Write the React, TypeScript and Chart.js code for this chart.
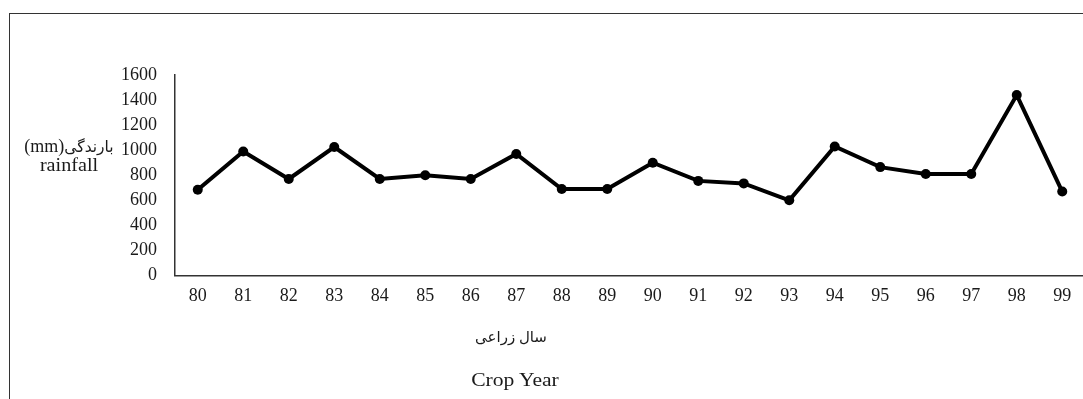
import React, { useEffect, useRef } from 'react';
import { Chart, registerables } from 'chart.js';

Chart.register(...registerables);

const years = ['80', '81', '82', '83', '84', '85', '86', '87', '88', '89', '90', '91', '92', '93', '94', '95', '96', '97', '98', '99'];
const rainfall = [685, 990, 770, 1025, 770, 800, 770, 970, 690, 690, 900, 755, 735, 600, 1030, 865, 810, 810, 1440, 670];
const yMin = 0;
const yMax = 1600;
const yStep = 200;
const yTitleFa = 'بارندگی';
const yTitleUnit = '(mm)';
const yTitleEn = 'rainfall';
const xTitleLines = ['سال زراعی', 'Crop Year'];

const SERIF = '"Liberation Serif", "Times New Roman", "DejaVu Sans", serif';

export default function App() {
  const ref = useRef<HTMLCanvasElement>(null);

  useEffect(() => {
    document.body.style.margin = '0';
    document.body.style.overflow = 'hidden';
    const chart = new Chart(ref.current!, {
      type: 'line',
      data: {
        labels: years,
        datasets: [
          {
            data: rainfall,
            borderColor: '#000',
            backgroundColor: '#000',
            borderWidth: 4,
            pointRadius: 5,
            pointBackgroundColor: '#000',
            pointBorderColor: '#000',
            pointBorderWidth: 0,
            tension: 0,
          },
        ],
      },
      options: {
        animation: false,
        responsive: false,
        layout: { padding: { left: 0, top: 75, right: 5, bottom: 0 } },
        plugins: { legend: { display: false }, tooltip: { enabled: false } },
        scales: {
          x: {
            offset: true,
            grid: { display: false, drawTicks: false },
            border: { display: true, color: '#333', width: 1.5 },
            ticks: {
              color: '#1a1a1a',
              font: { family: SERIF, size: 18 },
              padding: 10,
              maxRotation: 0,
              autoSkip: false,
            },
            afterFit: (s: any) => {
              s.height = 399 - 275.5;
            },
          },
          y: {
            min: yMin,
            max: yMax,
            grid: { display: false, drawTicks: false },
            border: { display: true, color: '#333', width: 1.5 },
            ticks: {
              stepSize: yStep,
              color: '#1a1a1a',
              font: { family: SERIF, size: 18 },
              padding: 18,
              callback: (v: any) => String(v),
            },
            afterFit: (s: any) => {
              s.width = 175;
            },
          },
        },
      },
    });
    return () => chart.destroy();
  }, []);

  return (
    <div style={{ position: 'relative', width: 1083, height: 399, overflow: 'hidden', background: '#fff', fontFamily: SERIF }}>
      <div
        style={{
          position: 'absolute',
          left: 9,
          top: 13,
          width: 1200,
          height: 600,
          border: '1.5px solid #333',
          boxSizing: 'border-box',
        }}
      />
      <canvas ref={ref} width={1090} height={399} style={{ position: 'absolute', left: 0, top: 0 }} />
      <div
        style={{
          position: 'absolute',
          left: 14,
          width: 110,
          top: 137,
          textAlign: 'center',
          fontSize: 18,
          lineHeight: '19px',
          color: '#1a1a1a',
        }}
      >
        <div style={{ direction: 'ltr', whiteSpace: 'nowrap' }}>
          <span style={{ fontSize: 18 }}>{yTitleUnit}</span>
          <span style={{ fontSize: 15.5, unicodeBidi: 'isolate' }}>{yTitleFa}</span>
        </div>
        <div style={{ transform: 'scaleX(1.12)' }}>{yTitleEn}</div>
      </div>
      <div
        style={{
          position: 'absolute',
          left: 411,
          width: 200,
          top: 327,
          textAlign: 'center',
          fontSize: 15,
          lineHeight: '20px',
          color: '#1a1a1a',
        }}
      >
        {xTitleLines[0]}
      </div>
      <div
        style={{
          position: 'absolute',
          left: 415,
          width: 200,
          top: 370,
          textAlign: 'center',
          fontSize: 18,
          lineHeight: '20px',
          color: '#1a1a1a',
          transform: 'scaleX(1.2)',
        }}
      >
        {xTitleLines[1]}
      </div>
    </div>
  );
}
